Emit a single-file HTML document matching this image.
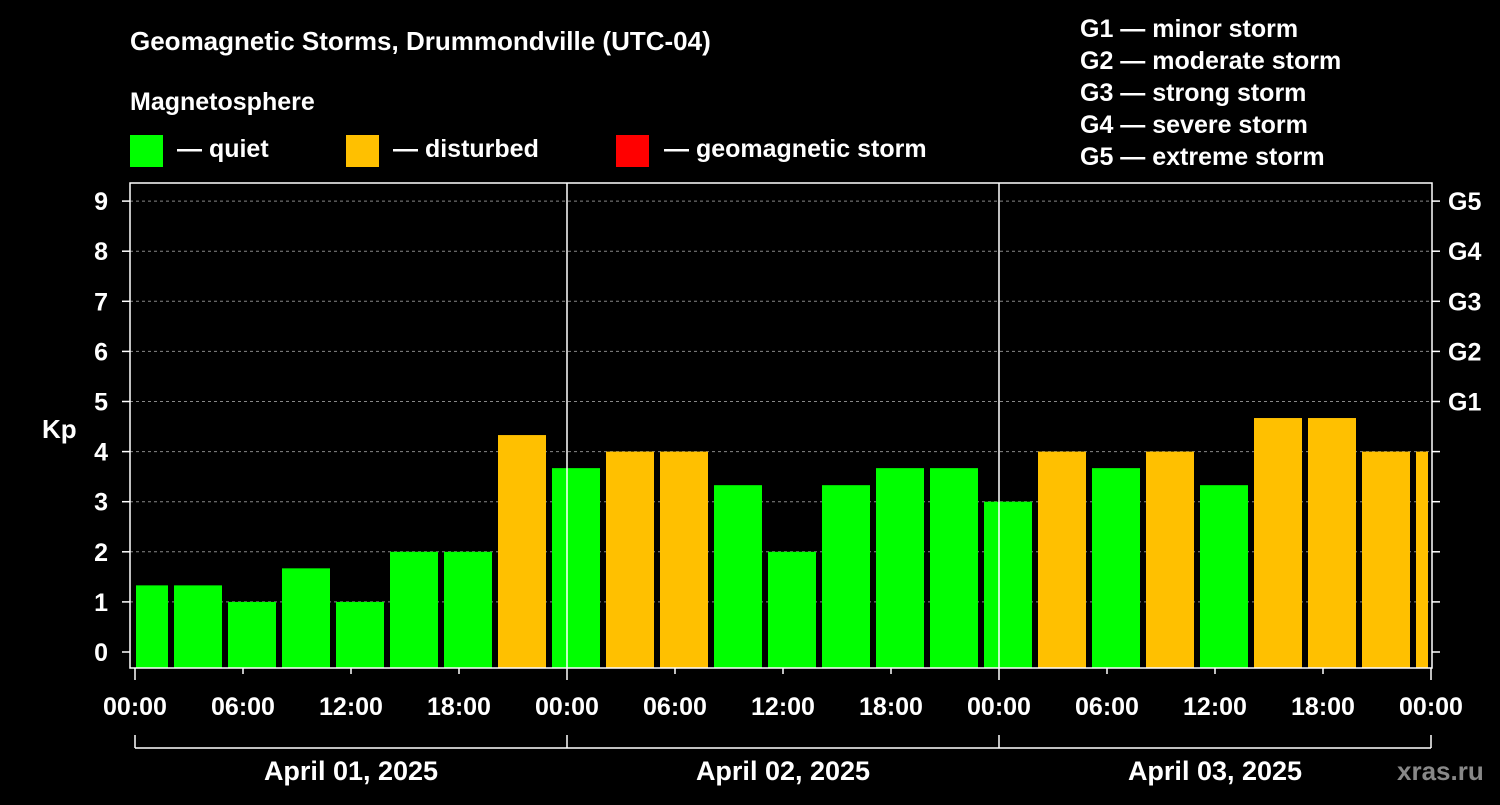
<!DOCTYPE html>
<html><head><meta charset="utf-8"><style>
body{margin:0;background:#000;}
svg text{font-family:"Liberation Sans",sans-serif;font-weight:bold;fill:#fff;}
</style></head><body>
<svg id="chart" width="1500" height="800" xmlns="http://www.w3.org/2000/svg">
<rect width="1500" height="800" fill="#000"/>
<text x="130" y="50" font-size="26">Geomagnetic Storms, Drummondville (UTC-04)</text>
<text x="130" y="110" font-size="25">Magnetosphere</text>
<g><rect x="130" y="135" width="33" height="32" fill="#00ff00"/><text x="177" y="157" font-size="25">— quiet</text></g>
<g><rect x="346" y="135" width="33" height="32" fill="#ffc000"/><text x="393" y="157" font-size="25">— disturbed</text></g>
<g><rect x="616" y="135" width="33" height="32" fill="#ff0000"/><text x="664" y="157" font-size="25">— geomagnetic storm</text></g>
<g font-size="25">
<text x="1080" y="37">G1 — minor storm</text>
<text x="1080" y="69">G2 — moderate storm</text>
<text x="1080" y="101">G3 — strong storm</text>
<text x="1080" y="133">G4 — severe storm</text>
<text x="1080" y="165">G5 — extreme storm</text>
</g>
<text x="42" y="438" font-size="26">Kp</text>
<g id="grid"></g><g id="bars"></g><g id="axes"></g>
<text x="1397" y="780" font-size="26" fill="#888" style="fill:#888">xras.ru</text>
</svg>
<script>
const kpValues=[1.33,1.33,1,1.67,1,2,2,4.33,3.67,4,4,3.33,2,3.33,3.67,3.67,3,4,3.67,4,3.33,4.67,4.67,4,4];
const yTicks=[0,1,2,3,4,5,6,7,8,9];
const gLabels=["G1","G2","G3","G4","G5"];
const timeLabels=["00:00","06:00","12:00","18:00"];
const dayLabels=["April 01, 2025","April 02, 2025","April 03, 2025"];
const NS="http://www.w3.org/2000/svg";
const L=130,R=1432,T=183,B=668,X0=135,DAY=432;
const y=v=>652-v*50.1;
const x=h=>X0+h*18;
function mk(t,a,p){const e=document.createElementNS(NS,t);for(const k in a)e.setAttribute(k,a[k]);document.getElementById(p).appendChild(e);return e;}
yTicks.forEach(v=>{
 if(v>0){const g=mk('line',{x1:L,x2:R,y1:y(v),y2:y(v),stroke:'#888','stroke-dasharray':'3,3','stroke-width':1},'grid');
 
 }
 const t=mk('text',{x:108,y:y(v)+9,'font-size':25,'text-anchor':'end'},'axes');t.textContent=v;
 
 
 mk('line',{x1:122,x2:L,y1:y(v),y2:y(v),stroke:'#fff','stroke-width':1.5},'axes');
 mk('line',{x1:R,x2:R+8,y1:y(v),y2:y(v),stroke:'#fff','stroke-width':1.5},'axes');
});
gLabels.forEach((g,i)=>{const t=mk('text',{x:1448,y:y(5+i)+9,'font-size':25},'axes');t.textContent=g;
 
 });
kpValues.forEach((v,i)=>{
 let x0=x(i*3)-15,x1=x0+48;x0=Math.max(x0,136);x1=Math.min(x1,1428);
 const r=mk('rect',{x:x0,y:y(v),width:x1-x0,height:B-y(v),fill:v>=5?'#ff0000':(v>=4?'#ffc000':'#00ff00')},'bars');
 
 
});
mk('rect',{x:L,y:T,width:R-L,height:B-T,fill:'none',stroke:'#fff','stroke-width':1.5},'axes');
for(let d=1;d<3;d++)mk('line',{x1:x(d*24),x2:x(d*24),y1:T,y2:B,stroke:'#fff','stroke-width':1.5},'axes');
for(let h=0;h<=72;h+=6){
 mk('line',{x1:x(h),x2:x(h),y1:B,y2:B+(h%24?6:12),stroke:'#fff','stroke-width':1.5},'axes');
 const t=mk('text',{x:x(h),y:715,'font-size':25,'text-anchor':'middle'},'axes');t.textContent=timeLabels[(h/6)%4];
 
 
}
mk('line',{x1:x(0),x2:x(72),y1:748,y2:748,stroke:'#fff','stroke-width':1.5},'axes');
for(let d=0;d<=3;d++)mk('line',{x1:x(d*24),x2:x(d*24),y1:735,y2:748,stroke:'#fff','stroke-width':1.5},'axes');
dayLabels.forEach((s,d)=>{const t=mk('text',{x:x(d*24+12),y:780,'font-size':27,'text-anchor':'middle'},'axes');t.textContent=s;
 
 });
</script>
</body></html>
